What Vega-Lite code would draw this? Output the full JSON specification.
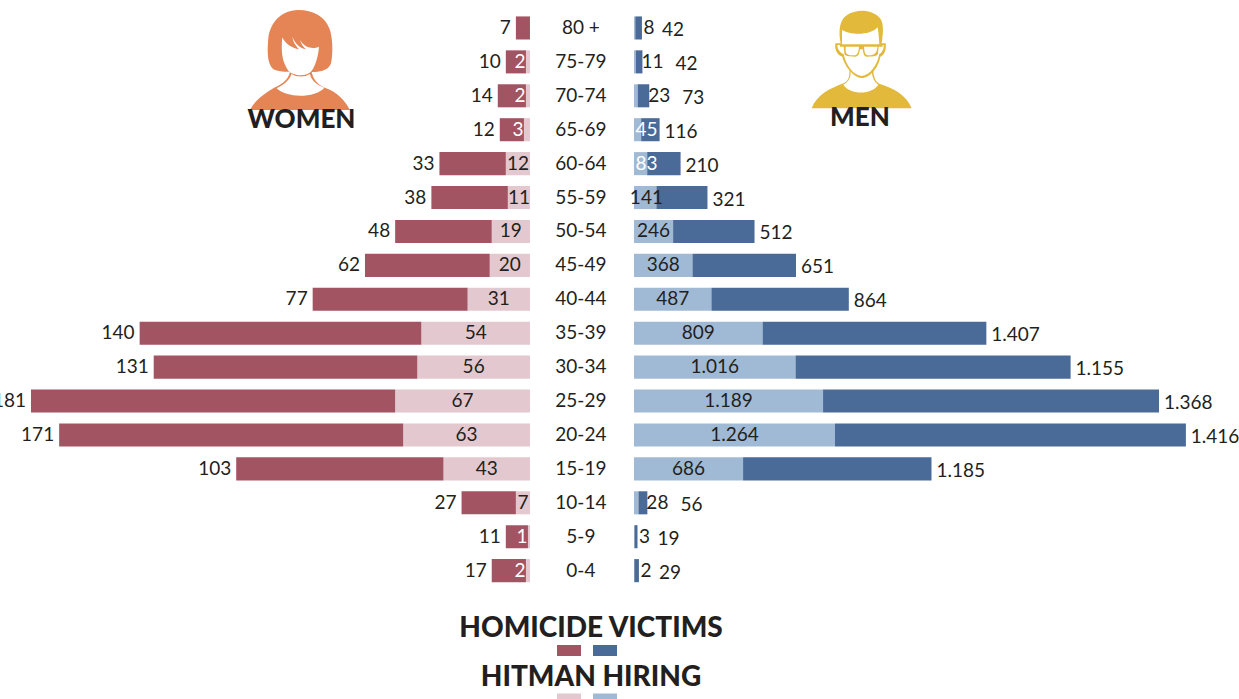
{"$schema":"https://vega.github.io/schema/vega-lite/v6.json","width":1239,"height":699,"padding":0,"autosize":"none","background":"white","config":{"view":{"stroke":null},"text":{"font":"Lato","fontSize":19,"fill":"#231f20"}},
"data":{"values":[
{"age":"80 +","sex":"women","kind":"victims","value":7,"label":"7"},
{"age":"75-79","sex":"women","kind":"hiring","value":2,"label":"2"},{"age":"75-79","sex":"women","kind":"victims","value":10,"label":"10"},
{"age":"70-74","sex":"women","kind":"hiring","value":2,"label":"2"},{"age":"70-74","sex":"women","kind":"victims","value":14,"label":"14"},
{"age":"65-69","sex":"women","kind":"hiring","value":3,"label":"3"},{"age":"65-69","sex":"women","kind":"victims","value":12,"label":"12"},
{"age":"60-64","sex":"women","kind":"hiring","value":12,"label":"12"},{"age":"60-64","sex":"women","kind":"victims","value":33,"label":"33"},
{"age":"55-59","sex":"women","kind":"hiring","value":11,"label":"11"},{"age":"55-59","sex":"women","kind":"victims","value":38,"label":"38"},
{"age":"50-54","sex":"women","kind":"hiring","value":19,"label":"19"},{"age":"50-54","sex":"women","kind":"victims","value":48,"label":"48"},
{"age":"45-49","sex":"women","kind":"hiring","value":20,"label":"20"},{"age":"45-49","sex":"women","kind":"victims","value":62,"label":"62"},
{"age":"40-44","sex":"women","kind":"hiring","value":31,"label":"31"},{"age":"40-44","sex":"women","kind":"victims","value":77,"label":"77"},
{"age":"35-39","sex":"women","kind":"hiring","value":54,"label":"54"},{"age":"35-39","sex":"women","kind":"victims","value":140,"label":"140"},
{"age":"30-34","sex":"women","kind":"hiring","value":56,"label":"56"},{"age":"30-34","sex":"women","kind":"victims","value":131,"label":"131"},
{"age":"25-29","sex":"women","kind":"hiring","value":67,"label":"67"},{"age":"25-29","sex":"women","kind":"victims","value":181,"label":"181"},
{"age":"20-24","sex":"women","kind":"hiring","value":63,"label":"63"},{"age":"20-24","sex":"women","kind":"victims","value":171,"label":"171"},
{"age":"15-19","sex":"women","kind":"hiring","value":43,"label":"43"},{"age":"15-19","sex":"women","kind":"victims","value":103,"label":"103"},
{"age":"10-14","sex":"women","kind":"hiring","value":7,"label":"7"},{"age":"10-14","sex":"women","kind":"victims","value":27,"label":"27"},
{"age":"5-9","sex":"women","kind":"hiring","value":1,"label":"1"},{"age":"5-9","sex":"women","kind":"victims","value":11,"label":"11"},
{"age":"0-4","sex":"women","kind":"hiring","value":2,"label":"2"},{"age":"0-4","sex":"women","kind":"victims","value":17,"label":"17"},
{"age":"80 +","sex":"men","kind":"hiring","value":8,"label":"8"},{"age":"80 +","sex":"men","kind":"victims","value":42,"label":"42"},
{"age":"75-79","sex":"men","kind":"hiring","value":11,"label":"11"},{"age":"75-79","sex":"men","kind":"victims","value":42,"label":"42"},
{"age":"70-74","sex":"men","kind":"hiring","value":23,"label":"23"},{"age":"70-74","sex":"men","kind":"victims","value":73,"label":"73"},
{"age":"65-69","sex":"men","kind":"hiring","value":45,"label":"45"},{"age":"65-69","sex":"men","kind":"victims","value":116,"label":"116"},
{"age":"60-64","sex":"men","kind":"hiring","value":83,"label":"83"},{"age":"60-64","sex":"men","kind":"victims","value":210,"label":"210"},
{"age":"55-59","sex":"men","kind":"hiring","value":141,"label":"141"},{"age":"55-59","sex":"men","kind":"victims","value":321,"label":"321"},
{"age":"50-54","sex":"men","kind":"hiring","value":246,"label":"246"},{"age":"50-54","sex":"men","kind":"victims","value":512,"label":"512"},
{"age":"45-49","sex":"men","kind":"hiring","value":368,"label":"368"},{"age":"45-49","sex":"men","kind":"victims","value":651,"label":"651"},
{"age":"40-44","sex":"men","kind":"hiring","value":487,"label":"487"},{"age":"40-44","sex":"men","kind":"victims","value":864,"label":"864"},
{"age":"35-39","sex":"men","kind":"hiring","value":809,"label":"809"},{"age":"35-39","sex":"men","kind":"victims","value":1407,"label":"1.407"},
{"age":"30-34","sex":"men","kind":"hiring","value":1016,"label":"1.016"},{"age":"30-34","sex":"men","kind":"victims","value":1730,"label":"1.155"},
{"age":"25-29","sex":"men","kind":"hiring","value":1189,"label":"1.189"},{"age":"25-29","sex":"men","kind":"victims","value":2113,"label":"1.368"},
{"age":"20-24","sex":"men","kind":"hiring","value":1264,"label":"1.264"},{"age":"20-24","sex":"men","kind":"victims","value":2207,"label":"1.416"},
{"age":"15-19","sex":"men","kind":"hiring","value":686,"label":"686"},{"age":"15-19","sex":"men","kind":"victims","value":1185,"label":"1.185"},
{"age":"10-14","sex":"men","kind":"hiring","value":28,"label":"28"},{"age":"10-14","sex":"men","kind":"victims","value":56,"label":"56"},
{"age":"5-9","sex":"men","kind":"hiring","value":3,"label":"3"},{"age":"5-9","sex":"men","kind":"victims","value":19,"label":"19"},
{"age":"0-4","sex":"men","kind":"hiring","value":2,"label":"2"},{"age":"0-4","sex":"men","kind":"victims","value":29,"label":"29"}
]},
"transform":[
{"stack":"value","groupby":["age","sex"],"sort":[{"field":"kind","order":"ascending"}],"as":["v0","v1"]},
{"joinaggregate":[{"op":"sum","field":"value","as":"total"}],"groupby":["age","sex"]},
{"calculate":"datum.sex+' '+datum.kind","as":"series"}
],
"resolve":{"scale":{"x":"independent","y":"independent","color":"independent"}},
"layer":[
{"transform":[{"filter":"datum.sex=='women'"}],
 "encoding":{"y":{"field":"age","type":"nominal","axis":null,"scale":{"type":"band","domain":["80 +","75-79","70-74","65-69","60-64","55-59","50-54","45-49","40-44","35-39","30-34","25-29","20-24","15-19","10-14","5-9","0-4"],"range":[11,587.6],"paddingInner":0.32,"paddingOuter":0.16}}},
 "layer":[
 {"mark":{"type":"bar"},"encoding":{"x":{"field":"v0","type":"quantitative","axis":null,"scale":{"domain":[263.4,-352.4],"zero":false,"nice":false}},"x2":{"field":"v1"},"color":{"field":"kind","type":"nominal","legend":null,"scale":{"domain":["victims","hiring"],"range":["#a35462","#e3c9cf"]}}}},
 {"transform":[{"filter":"datum.kind=='hiring'"},{"calculate":"datum.value<=3?datum.value+3:datum.value/2","as":"lx"}],"mark":{"type":"text","align":"center"},"encoding":{"x":{"field":"lx","type":"quantitative","axis":null,"scale":{"domain":[263.4,-352.4],"zero":false,"nice":false}},"text":{"field":"label"},"color":{"condition":{"test":"datum.value<=3","value":"white"},"value":"#231f20"}}},
 {"transform":[{"filter":"datum.kind=='victims'"}],"mark":{"type":"text","align":"right","dx":-5},"encoding":{"x":{"field":"v1","type":"quantitative","axis":null,"scale":{"domain":[263.4,-352.4],"zero":false,"nice":false}},"text":{"field":"label"}}},
 {"transform":[{"filter":"datum.kind=='victims'"}],"mark":{"type":"text","align":"center"},"encoding":{"x":{"datum":-25.3,"type":"quantitative","axis":null,"scale":{"domain":[263.4,-352.4],"zero":false,"nice":false}},"text":{"field":"age"}}}
 ]},
{"transform":[{"filter":"datum.sex=='men'"}],
 "encoding":{"y":{"field":"age","type":"nominal","axis":null,"scale":{"type":"band","domain":["80 +","75-79","70-74","65-69","60-64","55-59","50-54","45-49","40-44","35-39","30-34","25-29","20-24","15-19","10-14","5-9","0-4"],"range":[11,587.6],"paddingInner":0.32,"paddingOuter":0.16}}},
 "layer":[
 {"mark":{"type":"bar"},"encoding":{"x":{"field":"v0","type":"quantitative","axis":null,"scale":{"domain":[-3987.4,3805],"zero":false,"nice":false}},"x2":{"field":"v1"},"color":{"field":"kind","type":"nominal","legend":null,"scale":{"domain":["victims","hiring"],"range":["#4a6b98","#a0bad5"]}}}},
 {"transform":[{"filter":"datum.kind=='hiring'"},{"calculate":"datum.value<40?datum.total+(datum.value<10?44:63):max(datum.value/2,78)","as":"lx"}],"mark":{"type":"text","align":"center"},"encoding":{"x":{"field":"lx","type":"quantitative","axis":null,"scale":{"domain":[-3987.4,3805],"zero":false,"nice":false}},"text":{"field":"label"},"color":{"condition":{"test":"datum.value>=40&&datum.value<100","value":"white"},"value":"#231f20"}}},
 {"transform":[{"filter":"datum.kind=='victims'"},{"calculate":"datum.total-datum.value","as":"h"},{"calculate":"datum.h<40?datum.total+(datum.h<10?126:208):datum.total+31","as":"lx"}],"mark":{"type":"text","align":"left","dy":2},"encoding":{"x":{"field":"lx","type":"quantitative","axis":null,"scale":{"domain":[-3987.4,3805],"zero":false,"nice":false}},"text":{"field":"label"}}}
 ]},
{"data":{"values":[{"sex":"women","title":"WOMEN"}]},
 "encoding":{"x":{"field":"sex","type":"nominal","axis":null,"scale":{"type":"point","domain":["women","men"],"range":[230,800],"padding":0}},"y":{"datum":0,"type":"quantitative","axis":null,"scale":{"domain":[0,699],"range":[0,699]}}},
 "layer":[
 {"mark":{"type":"point","filled":true,"opacity":1,"strokeWidth":0,"size":0.4444,"color":"#e58555","shape":"M205 30 C150 32 120 70 115 115 C112 150 110 190 130 208 C150 218 180 215 200 215 L240 215 C270 218 295 212 303 190 C310 160 308 110 298 85 C285 50 250 30 205 30 Z"}},
 {"mark":{"type":"point","filled":true,"opacity":1,"strokeWidth":0,"size":0.4444,"color":"#e58555","shape":"M60 330 C75 300 105 280 135 262 C155 252 175 240 180 215 L245 215 C250 240 265 255 285 263 C320 275 345 300 360 330 Z"}},
 {"mark":{"type":"point","filled":true,"opacity":1,"strokeWidth":0,"size":0.4444,"color":"white","shape":"M184 222 C180 240 160 255 140 265 C170 295 255 295 283 263 C260 255 243 240 240 222 C225 232 200 232 184 222 Z"}},
 {"mark":{"type":"point","filled":true,"opacity":1,"strokeWidth":0,"size":0.4444,"color":"white","shape":"M157 112 C153 150 155 185 175 212 C190 228 230 232 245 212 C258 195 265 165 267 140 C250 148 225 145 210 120 C215 135 220 140 228 148 C210 145 195 130 187 110 C190 130 200 140 208 148 C185 145 165 130 157 112 Z"}},
 {"mark":{"type":"text","font":"Lato","fontWeight":900,"fontSize":26,"align":"center","dx":71.5,"dy":120},"encoding":{"text":{"field":"title"}}}
 ]},
{"data":{"values":[{"sex":"men","title":"MEN"}]},
 "encoding":{"x":{"field":"sex","type":"nominal","axis":null,"scale":{"type":"point","domain":["women","men"],"range":[230,800],"padding":0}},"y":{"datum":0,"type":"quantitative","axis":null,"scale":{"domain":[0,699],"range":[0,699]}}},
 "layer":[
 {"mark":{"type":"point","filled":true,"opacity":1,"strokeWidth":0,"size":0.4444,"color":"#e3b93c","shape":"M35 325 C50 285 90 265 130 250 C145 245 150 230 148 205 L220 205 C220 230 225 245 240 252 C280 265 320 285 335 325 Z"}},
 {"mark":{"type":"point","filled":true,"opacity":1,"strokeWidth":0,"size":0.4444,"color":"white","shape":"M152 210 C153 230 148 245 130 254 C150 285 215 285 235 254 C222 245 215 230 216 210 Z"}},
 {"mark":{"type":"point","filled":true,"opacity":1,"strokeWidth":0,"size":0.4444,"color":"#e3b93c","shape":"M122 130 L106 130 C103 150 113 167 127 170 C134 202 165 234 185 234 C210 234 236 202 241 170 C252 167 260 150 257 130 L245 130 C250 100 252 70 240 55 C225 35 190 28 165 35 C135 42 110 60 122 130 Z"}},
 {"mark":{"type":"point","filled":true,"opacity":1,"strokeWidth":0,"size":0.4444,"color":"white","shape":"M126 90 C150 105 210 108 233 82 C236 100 238 125 238 135 L251 135 C252 148 246 158 238 162 C232 195 210 226 185 228 C160 226 137 195 131 162 C120 158 112 148 112 135 L126 135 Z"}},
 {"mark":{"type":"point","filled":true,"opacity":1,"strokeWidth":0,"size":0.4444,"color":"#e3b93c","shape":"M120 133 L248 133 L248 140 L236 140 L234 160 C233 168 225 170 200 170 C192 170 190 160 188 148 L180 148 C178 160 176 170 165 170 C145 170 134 168 133 160 L131 140 L120 140 Z"}},
 {"mark":{"type":"point","filled":true,"opacity":1,"strokeWidth":0,"size":0.4444,"color":"white","shape":"M137 140 L177 140 C176 155 173 165 163 166 C150 166 140 165 137 155 Z M192 140 L232 140 C231 155 228 165 205 166 C195 166 193 155 192 140 Z"}},
 {"mark":{"type":"text","font":"Lato","fontWeight":900,"fontSize":26,"align":"center","dx":60,"dy":118},"encoding":{"text":{"field":"title"}}}
 ]},
{"data":{"values":[{"kind":"victims","sex":"women"},{"kind":"victims","sex":"men"},{"kind":"hiring","sex":"women"},{"kind":"hiring","sex":"men"}]},
 "transform":[{"calculate":"datum.sex+' '+datum.kind","as":"series"}],
 "mark":{"type":"rect"},
 "encoding":{"x":{"field":"sex","type":"nominal","axis":null,"scale":{"type":"band","domain":["women","men"],"range":[557,617],"paddingInner":0.3333,"paddingOuter":0}},
 "y":{"field":"kind","type":"nominal","axis":null,"scale":{"type":"band","domain":["victims","hiring"],"range":[645,704.5],"paddingInner":0.773,"paddingOuter":0}},
 "color":{"field":"series","type":"nominal","legend":null,"scale":{"domain":["women victims","men victims","women hiring","men hiring"],"range":["#a35462","#4a6b98","#e3c9cf","#a0bad5"]}}}},
{"data":{"values":[{"kind":"victims","title":"HOMICIDE VICTIMS"},{"kind":"hiring","title":"HITMAN HIRING"}]},
 "mark":{"type":"text","font":"Lato","fontWeight":900,"fontSize":28,"align":"center"},
 "encoding":{"x":{"datum":0,"type":"quantitative","axis":null,"scale":{"domain":[-591,648],"zero":false,"nice":false}},
 "y":{"field":"kind","type":"nominal","axis":null,"scale":{"type":"point","domain":["victims","hiring"],"range":[629,678],"padding":0}},
 "text":{"field":"title"}}}
]}
